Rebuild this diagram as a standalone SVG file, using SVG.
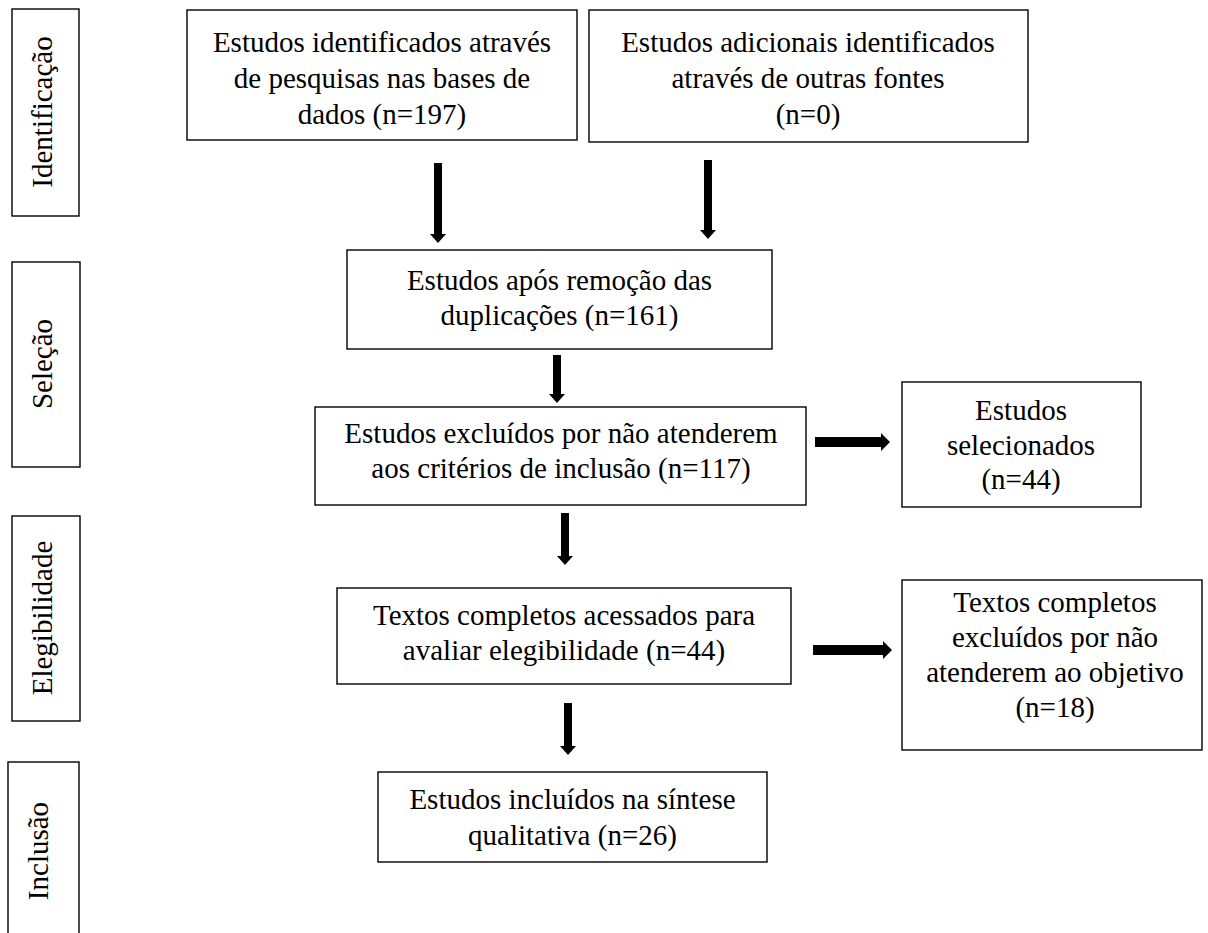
<svg xmlns="http://www.w3.org/2000/svg" width="1208" height="933" viewBox="0 0 1208 933">
<style>
.box{fill:#fff;stroke:#000;stroke-width:1.4}
.t{font-family:"Liberation Serif","Times New Roman",serif;font-size:29px;fill:#000;text-anchor:middle}
.arr{fill:#000;stroke:none}
</style>
<rect x="0" y="0" width="1208" height="933" fill="#fff"/>
<g id="stage-identificacao">
<rect class="box" x="12" y="9" width="67" height="207"/>
<text class="t" transform="translate(52,112) rotate(-90)">Identificação</text>
</g>
<g id="stage-selecao">
<rect class="box" x="12" y="262" width="68" height="205"/>
<text class="t" transform="translate(52,364) rotate(-90)">Seleção</text>
</g>
<g id="stage-elegibilidade">
<rect class="box" x="12" y="516" width="68" height="205"/>
<text class="t" transform="translate(52,618) rotate(-90)">Elegibilidade</text>
</g>
<g id="stage-inclusao">
<rect class="box" x="8" y="762" width="71" height="185"/>
<text class="t" transform="translate(48,851) rotate(-90)">Inclusão</text>
</g>
<g id="n1">
<rect class="box" x="187" y="10" width="390" height="130"/>
<text class="t" x="382" y="52">Estudos identificados através</text>
<text class="t" x="382" y="88">de pesquisas nas bases de</text>
<text class="t" x="382" y="124">dados (n=197)</text>
</g>
<g id="n2">
<rect class="box" x="589" y="10" width="439" height="132"/>
<text class="t" x="808" y="52">Estudos adicionais identificados</text>
<text class="t" x="808" y="88">através de outras fontes</text>
<text class="t" x="808" y="124">(n=0)</text>
</g>
<g id="n3">
<rect class="box" x="347" y="250" width="425" height="99"/>
<text class="t" x="559.5" y="290">Estudos após remoção das</text>
<text class="t" x="559.5" y="325">duplicações (n=161)</text>
</g>
<g id="n4">
<rect class="box" x="315" y="407" width="491" height="98"/>
<text class="t" x="561" y="443">Estudos excluídos por não atenderem</text>
<text class="t" x="561" y="478">aos critérios de inclusão (n=117)</text>
</g>
<g id="n5">
<rect class="box" x="902" y="382" width="239" height="125"/>
<text class="t" x="1021" y="420">Estudos</text>
<text class="t" x="1021" y="455">selecionados</text>
<text class="t" x="1021" y="489">(n=44)</text>
</g>
<g id="n6">
<rect class="box" x="337" y="588" width="454" height="96"/>
<text class="t" x="564" y="625">Textos completos acessados para</text>
<text class="t" x="564" y="660">avaliar elegibilidade (n=44)</text>
</g>
<g id="n7">
<rect class="box" x="902" y="580" width="300" height="170"/>
<text class="t" x="1055" y="612">Textos completos</text>
<text class="t" x="1055" y="647">excluídos por não</text>
<text class="t" x="1055" y="682">atenderem ao objetivo</text>
<text class="t" x="1055" y="717">(n=18)</text>
</g>
<g id="n8">
<rect class="box" x="378" y="772" width="389" height="90"/>
<text class="t" x="572.5" y="809">Estudos incluídos na síntese</text>
<text class="t" x="572.5" y="845">qualitativa (n=26)</text>
</g>
<g id="connectors">
<polygon class="arr" points="434,163 442,163 442,234 446,234 438,243 430,234 434,234"/>
<polygon class="arr" points="704,160 712,160 712,230 716,230 708,239 700,230 704,230"/>
<polygon class="arr" points="553,355 561,355 561,394 565,394 557,403 549,394 553,394"/>
<polygon class="arr" points="561,513 569,513 569,556 573,556 565,565 557,556 561,556"/>
<polygon class="arr" points="564,703 572,703 572,746 576,746 568,755 560,746 564,746"/>
<polygon class="arr" points="815,437 881,437 881,433 890,442 881,451 881,447 815,447"/>
<polygon class="arr" points="813,645 883,645 883,641 892,650 883,659 883,655 813,655"/>
</g>
</svg>
